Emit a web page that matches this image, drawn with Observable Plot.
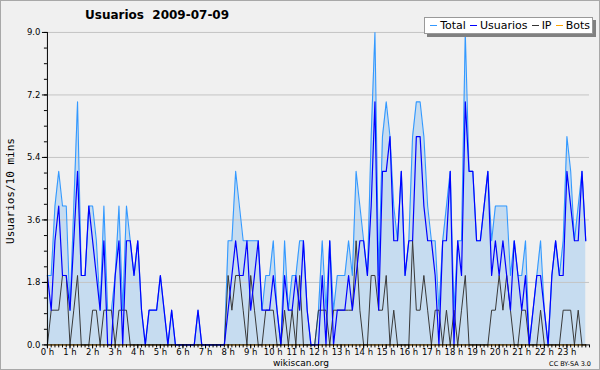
<!DOCTYPE html>
<html>
<head>
<meta charset="utf-8">
<script src="https://cdn.jsdelivr.net/npm/d3@7"></script>
<script src="https://cdn.jsdelivr.net/npm/@observablehq/plot@0.6"></script>
<style>
  html, body { margin: 0; padding: 0; background: #f0f0f0; }
  #wrap { position: relative; width: 598px; height: 368px; border: 1px solid #a8a8a8; background: #f0f0f0; overflow: hidden; font-family: "DejaVu Sans", sans-serif; }
  #chart { position: absolute; left: -1px; top: -1px; }
  .title { position: absolute; left: 84px; top: 7px; font-size: 12px; font-weight: bold; color: #000; white-space: pre; }
  .ylab { position: absolute; left: 3px; top: 190px; font-family: "DejaVu Sans Mono", monospace; font-size: 11px; transform-origin: 0 0; transform: rotate(-90deg) translate(-50%, 0); white-space: nowrap; }
  .legend { position: absolute; left: 423px; top: 16px; width: 164px; height: 15px; background: #fff; border: 1px solid #999; box-shadow: 3px 3px 0 #808080; display: flex; align-items: center; font-size: 11px; padding-left: 3px; white-space: nowrap; }
  .legend span.seg { display: inline-block; width: 12px; height: 0; border-top: 1px solid; margin: 0 3px 0 2px; }
  .legend span.t { margin-right: 2px; }
  .foot { position: absolute; left: 0; width: 600px; top: 357px; line-height: 10px; text-align: center; font-size: 9px; white-space: nowrap; }
  .cc { position: absolute; right: 8px; top: 359px; line-height: 8px; font-size: 6.5px; white-space: nowrap; }
</style>
</head>
<body>
<div id="wrap">
  <div id="chart"></div>
  <div class="title">Usuarios  2009-07-09</div>
  <div class="ylab">Usuarios/10 mins</div>
  <div class="legend">
    <span class="seg" style="border-color:#3399ff"></span><span class="t">Total</span>
    <span class="seg" style="border-color:#0000ff"></span><span class="t">Usuarios</span>
    <span class="seg" style="border-color:#333"></span><span class="t">IP</span>
    <span class="seg" style="border-color:#ffa500"></span><span class="t">Bots</span>
  </div>
  <div class="foot">wikiscan.org</div>
  <div class="cc">CC BY-SA 3.0</div>
</div>
<script>
// 10-minute slots, 0:00 .. 23:50
const slots = d3.range(144);
const total = [
  2,2,4,5,4,4,1,4,7,2,2,4,4,3,1,4,1,1,2,4,1,4,3,2,
  3,1,0,1,1,1,2,1,0,1,0,0,0,0,0,0,1,0,0,0,0,0,0,0,
  3,3,5,4,3,3,3,3,3,1,2,2,3,1,0,3,1,2,2,3,3,1,0,0,
  1,3,1,3,1,2,2,2,3,2,5,4,3,2,6,9,2,6,7,6,4,3,5,2,
  3,6,7,7,6,4,3,3,1,3,4,5,1,3,3,9,5,5,3,3,4,5,3,4,
  4,4,4,2,3,2,2,3,0,1,2,3,1,0,2,3,2,3,6,5,3,4,5,3
];
const usuarios = [
  2,1,3,4,2,2,1,3,5,2,2,4,3,2,1,3,0,0,2,3,0,3,3,2,
  3,1,0,1,1,1,2,1,0,1,0,0,0,0,0,0,1,0,0,0,0,0,0,0,
  1,2,3,2,2,3,1,2,3,1,1,1,2,1,0,2,1,1,2,1,3,1,0,0,
  0,2,0,3,0,1,1,1,2,1,2,3,3,2,4,7,1,5,5,6,3,3,5,2,
  3,3,6,6,4,3,3,2,0,3,3,5,0,3,2,7,5,5,3,3,4,5,2,3,
  2,3,2,1,3,2,1,2,0,1,2,2,1,0,2,3,2,2,5,4,3,3,5,3
];
const ip = [
  0,1,1,1,2,2,0,1,2,0,0,0,1,1,0,1,1,1,0,1,1,1,0,0,
  0,0,0,0,0,0,0,0,0,0,0,0,0,0,0,0,0,0,0,0,0,0,0,0,
  2,1,2,2,1,0,2,1,0,0,1,1,1,0,0,1,0,1,0,2,0,0,0,0,
  1,1,1,0,1,1,1,1,1,1,3,1,0,0,2,2,1,1,2,0,1,0,0,0,
  0,3,1,1,2,1,0,1,1,0,1,0,1,0,1,2,0,0,0,0,0,0,1,1,
  2,1,2,1,0,0,1,1,0,0,0,1,0,0,0,0,0,1,1,1,0,1,0,0
];
const bots = new Array(144).fill(0);
const yTicks = [0, 1.8, 3.6, 5.4, 7.2, 9.0];
const hourLabels = d3.range(24).map(h => h + " h");

const data = slots.map(i => ({h: i / 6, total: total[i], usuarios: usuarios[i], ip: ip[i], bots: bots[i]}));

const chart = Plot.plot({
  width: 600,
  height: 370,
  marginLeft: 47,
  marginRight: 10,
  marginTop: 32,
  marginBottom: 25,
  style: {background: "transparent", fontFamily: "DejaVu Sans", fontSize: "9px", color: "#000"},
  x: {domain: [0, 24], axis: null, label: null},
  y: {domain: [0, 9], axis: null, label: null},
  marks: [
    Plot.areaY(data, {x: "h", y: "total", fill: "#c6dcf0"}),
    Plot.gridY(yTicks.slice(1), {stroke: "#c4c4c4", strokeOpacity: 1}),
    Plot.lineY(data, {x: "h", y: "bots", stroke: "#ffa500", strokeWidth: 1}),
    Plot.lineY(data, {x: "h", y: "total", stroke: "#3399ff", strokeWidth: 1.1}),
    Plot.lineY(data, {x: "h", y: "ip", stroke: "#383838", strokeWidth: 1}),
    Plot.lineY(data, {x: "h", y: "usuarios", stroke: "#0000ff", strokeWidth: 1.2}),
    Plot.axisY(d3.range(0, 9.001, 0.45), {tickSize: 3, text: null, label: null, stroke: "#000"}),
    Plot.axisY(yTicks, {tickSize: 5, tickPadding: 2, label: null, tickFormat: d => d.toFixed(1), stroke: "#000", fill: "#000", fontSize: 8.5}),
    Plot.axisX(d3.range(0, 24.001, 1/6), {tickSize: 3, text: null, label: null, stroke: "#000"}),
    Plot.axisX(d3.range(0, 24), {tickSize: 4, tickPadding: 0, label: null, tickFormat: d => hourLabels[d], stroke: "#000", fill: "#000", fontSize: 8.5}),
    Plot.ruleX([0], {stroke: "#000"}),
    Plot.ruleY([0], {stroke: "#000"})
  ]
});
document.getElementById("chart").appendChild(chart);
</script>
</body>
</html>
